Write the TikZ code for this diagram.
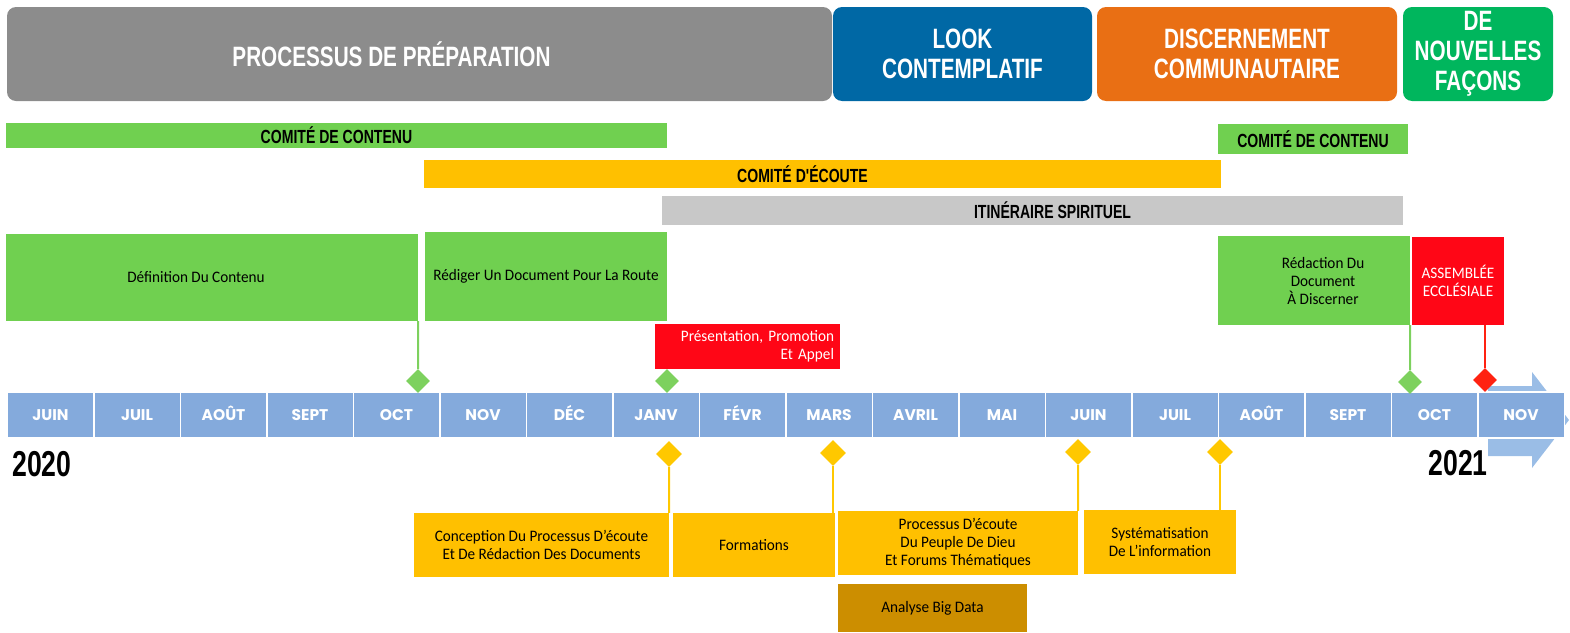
\documentclass[tikz,border=0pt]{standalone}
\usepackage{fontspec}
\setmainfont[FakeStretch=0.95]{Carlito}
\newfontfamily\narrowfont[FakeStretch=0.74]{Liberation Sans}
\newfontfamily\monthfont{Poppins}
\usetikzlibrary{shapes.geometric,positioning}
\frenchspacing

\definecolor{prepgrey}{HTML}{8C8C8C}
\definecolor{lookblue}{HTML}{0068A5}
\definecolor{discorange}{HTML}{E96F14}
\definecolor{newgreen}{HTML}{00B65D}
\definecolor{teamgreen}{HTML}{70D050}
\definecolor{teamyellow}{HTML}{FFC000}
\definecolor{spirgrey}{HTML}{C8C8C8}
\definecolor{assemred}{HTML}{FF0616}
\definecolor{monthblue}{HTML}{84AADC}
\definecolor{arrowblue}{HTML}{9ABDE6}
\definecolor{datagold}{HTML}{CC8E00}
\definecolor{pingreen}{HTML}{7DD15E}
\definecolor{pinyellow}{HTML}{FFC800}
\definecolor{pinred}{HTML}{FF2211}

\begin{document}
\begin{tikzpicture}[x=1pt,y=-1pt,
  phase/.style={rounded corners=9pt, text=white, inner sep=0pt, align=center,
    font=\narrowfont\bfseries\fontsize{28}{30}\selectfont},
  team/.style={inner sep=0pt, font=\narrowfont\bfseries\fontsize{19}{21}\selectfont},
  task/.style={inner sep=0pt, align=center, font=\fontsize{16}{18}\selectfont},
  month/.style={fill=monthblue, draw=white, line width=1.5pt, minimum width=86.5pt,
    minimum height=46pt, inner sep=0pt, text height=11pt, text depth=0pt, text=white,
    font=\monthfont\bfseries\fontsize{15.5}{15.5}\selectfont},
  pin/.style={diamond, inner sep=0pt, minimum size=24pt},
  year/.style={inner sep=0pt, font=\narrowfont\bfseries\fontsize{36}{36}\selectfont},
  link/.style={line width=2pt}]
  \useasboundingbox (0,0) rectangle (1570,632);

  % phases
  \node[phase, fill=prepgrey, minimum width=825pt, minimum height=94pt] (prep) at (419.5,54)
    {PROCESSUS DE PRÉPARATION\hspace*{56pt}};
  \node[phase, fill=lookblue, minimum width=259pt, minimum height=94pt] (look) at (962.5,54)
    {LOOK\\CONTEMPLATIF};
  \node[phase, fill=discorange, minimum width=300pt, minimum height=94pt] (disc) at (1247,54)
    {DISCERNEMENT\\COMMUNAUTAIRE};
  \node[phase, fill=newgreen, minimum width=150pt, minimum height=94pt] (new) at (1478,54)
    {DE\\NOUVELLES\\FAÇONS};

  % teams
  \node[team, fill=teamgreen, minimum width=661pt, minimum height=25pt] (contenu1) at (336.5,135.5)
    {COMITÉ DE CONTENU};
  \node[team, fill=teamyellow, minimum width=797pt, minimum height=28pt] (ecoute) at (822.5,174)
    {COMITÉ D'ÉCOUTE\hspace*{40pt}};
  \node[team, fill=spirgrey, minimum width=741pt, minimum height=29pt] (spir) at (1032.5,210.5)
    {\hspace*{40pt}ITINÉRAIRE SPIRITUEL};
  \node[team, fill=teamgreen, minimum width=190pt, minimum height=30pt] (contenu2) at (1313,139)
    {COMITÉ DE CONTENU};

  % tasks above
  \node[task, fill=teamgreen, minimum width=412pt, minimum height=87pt] (defn) at (212,277.5)
    {Définition Du Contenu\hspace*{32pt}};
  \node[task, fill=teamgreen, minimum width=242pt, minimum height=89pt] (redig) at (546,276.5)
    {Rédiger Un Document Pour La Route};
  \node[task, fill=assemred, text=white, align=right, text width=173pt,
    minimum width=185pt, minimum height=45pt] (pres) at (747.5,346.5)
    {Présentation, Promotion\\Et Appel};
  \node[task, fill=teamgreen, minimum width=192pt, minimum height=89pt] (redac) at (1314,280.5)
    {\hspace*{18pt}Rédaction Du\\\hspace*{18pt}Document\\\hspace*{18pt}À Discerner};
  \node[task, fill=assemred, text=white, minimum width=92pt, minimum height=88pt] (assem) at (1458,281)
    {ASSEMBLÉE\\ECCLÉSIALE};

  % timeline
  \fill[arrowblue] (1488,386) -- (1532,386) -- (1532,372) -- (1569,420)
    -- (1532,468) -- (1532,456) -- (1488,456) -- cycle;
  \begin{scope}[node distance=86.5pt, on grid]
    \node[month] (m1) at (50.5,415) {JUIN};
    \node[month] (m2) [right=of m1] {JUIL};
    \node[month] (m3) [right=of m2] {AOÛT};
    \node[month] (m4) [right=of m3] {SEPT};
    \node[month] (m5) [right=of m4] {OCT};
    \node[month] (m6) [right=of m5] {NOV};
    \node[month] (m7) [right=of m6] {DÉC};
    \node[month] (m8) [right=of m7] {JANV};
    \node[month] (m9) [right=of m8] {FÉVR};
    \node[month] (m10) [right=of m9] {MARS};
    \node[month] (m11) [right=of m10] {AVRIL};
    \node[month] (m12) [right=of m11] {MAI};
    \node[month] (m13) [right=of m12] {JUIN};
    \node[month] (m14) [right=of m13] {JUIL};
    \node[month] (m15) [right=of m14] {AOÛT};
    \node[month] (m16) [right=of m15] {SEPT};
    \node[month] (m17) [right=of m16] {OCT};
    \node[month] (m18) [right=of m17] {NOV};
  \end{scope}
  \node[year] (y2020) at (42,464) {2020};
  \node[year] (y2021) at (1458,463) {2021};

  % tasks below
  \node[task, fill=teamyellow, minimum width=255pt, minimum height=64pt] (concep) at (541.5,545)
    {Conception Du Processus D'écoute\\Et De Rédaction Des Documents};
  \node[task, fill=teamyellow, minimum width=162pt, minimum height=64pt] (form) at (754,545)
    {Formations};
  \node[task, fill=teamyellow, minimum width=240pt, minimum height=64pt] (proc) at (958,543)
    {Processus D'écoute\\Du Peuple De Dieu\\Et Forums Thématiques};
  \node[task, fill=datagold, minimum width=189pt, minimum height=48pt] (bigd) at (932.5,608)
    {Analyse Big Data};
  \node[task, fill=teamyellow, minimum width=152pt, minimum height=64pt] (syst) at (1160,542)
    {Systématisation\\De L'information};

  % pins
  \node[pin, fill=pingreen] (pg1) at (418,381) {};
  \node[pin, fill=pingreen] (pg2) at (667,381) {};
  \node[pin, fill=pingreen] (pg3) at (1410,382) {};
  \node[pin, fill=pinred] (pr1) at (1485,380) {};
  \node[pin, fill=pinyellow, minimum size=26pt] (py1) at (669,454) {};
  \node[pin, fill=pinyellow, minimum size=26pt] (py2) at (833,453) {};
  \node[pin, fill=pinyellow, minimum size=26pt] (py3) at (1078,452) {};
  \node[pin, fill=pinyellow, minimum size=26pt] (py4) at (1220,452) {};

  \path[link, draw=pingreen] (defn.south east) edge (pg1)
    (redac.south east) edge (pg3);
  \path[link, draw=pinred] (pr1) edge (pr1 |- assem.south);
  \path[link, draw=pinyellow] (py1) edge (concep.north east)
    (py2) edge (py2 |- form.north)
    (py3) edge (proc.north east)
    (py4) edge (py4 |- syst.north);
\end{tikzpicture}
\end{document}
